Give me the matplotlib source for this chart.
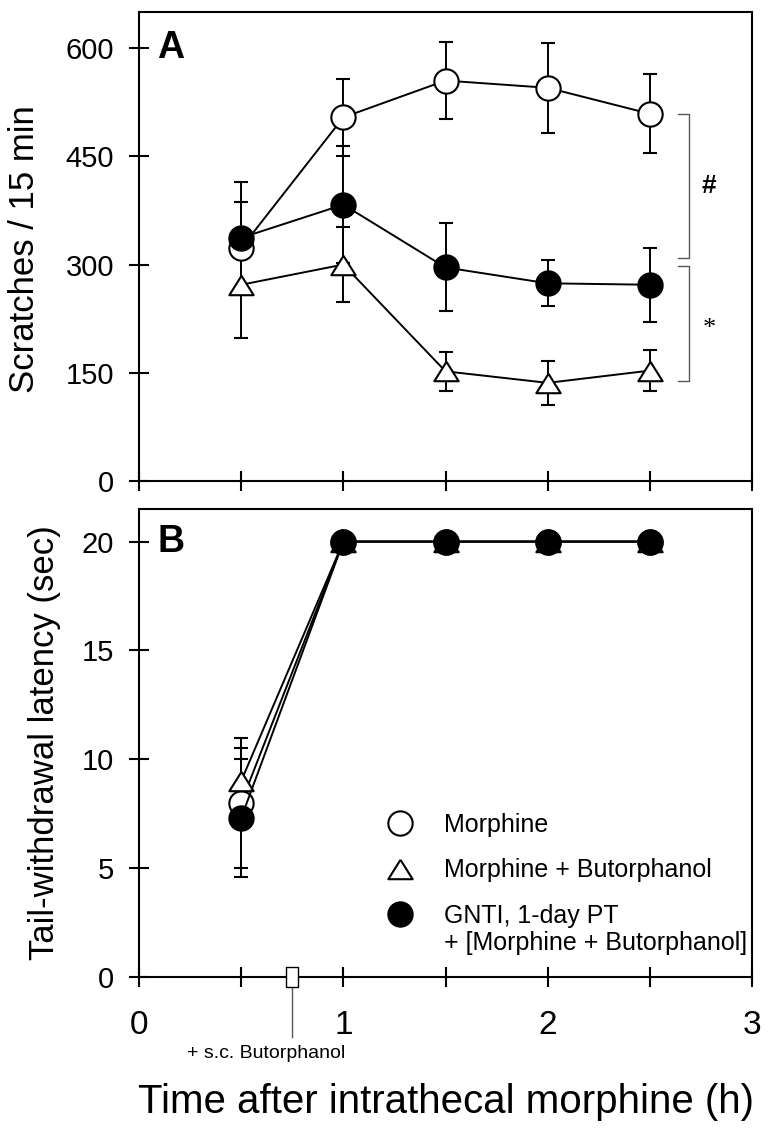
import numpy as np
import matplotlib
matplotlib.use("Agg")
import matplotlib.pyplot as plt
from matplotlib.lines import Line2D

plt.rcParams['font.family'] = ['Liberation Sans', 'DejaVu Sans']

# time points (h after intrathecal morphine)
time_h = [0.5, 1.0, 1.5, 2.0, 2.5]

# panel A: scratches / 15 min (mean, SEM)
scr_morphine = [323, 504, 555, 545, 509]
scr_morphine_err = [64, 53, 53, 62, 55]
scr_morph_buto = [272, 300, 152, 136, 153]
scr_morph_buto_err = [74, 52, 27, 31, 28]
scr_gnti = [337, 383, 296, 274, 272]
scr_gnti_err = [78, 81, 61, 32, 51]

# panel B: tail-withdrawal latency (sec)
tw_morphine = [8.0, 20, 20, 20, 20]
tw_morphine_err = [3.0, 0, 0, 0, 0]
tw_morph_buto = [9.0, 20, 20, 20, 20]
tw_morph_buto_err = [1.5, 0, 0, 0, 0]
tw_gnti = [7.3, 20, 20, 20, 20]
tw_gnti_err = [2.7, 0, 0, 0, 0]

labels = ['Morphine', 'Morphine + Butorphanol', 'GNTI, 1-day PT']
label_cont = '+ [Morphine + Butorphanol]'

# significance brackets (y ranges in scratches)
bracket_hash = (309, 509)
bracket_star = (139, 298)
buto_time = 0.75

TRI = [(0, 0.8), (-1, -0.8), (1, -0.8), (0, 0.8)]
MS = 17.5
LW = 1.4

styles = [
    dict(marker='o', mfc='white'),
    dict(marker=TRI, mfc='white'),
    dict(marker='o', mfc='black'),
]


def style_axes(ax, yticks, ylim):
    ax.set_xlim(0, 3)
    ax.set_ylim(*ylim)
    ax.set_yticks(yticks)
    ax.set_xticks(np.arange(0, 3.01, 0.5))
    for s in ax.spines.values():
        s.set_linewidth(1.5)
    ax.tick_params(direction='inout', length=14, width=1.5,
                   top=False, right=False)
    ax.tick_params(axis='y', labelsize=21, pad=11)
    ax.tick_params(axis='x', labelsize=24, pad=17)


def draw_series(ax, ys, errs):
    for y, e, st in zip(ys, errs, styles):
        ax.errorbar(time_h, y, yerr=e, color='black', lw=LW, ms=MS,
                    mec='black', mew=1.5, capsize=5, capthick=LW,
                    elinewidth=LW, clip_on=False, **st)


fig = plt.figure(figsize=(7.74, 11.36), dpi=100)
axA = fig.add_axes([0.1796, 0.5766, 0.792, 0.4128])
axB = fig.add_axes([0.1796, 0.1400, 0.792, 0.4120])

# panel A
draw_series(axA, [scr_morphine, scr_morph_buto, scr_gnti],
            [scr_morphine_err, scr_morph_buto_err, scr_gnti_err])
style_axes(axA, [0, 150, 300, 450, 600], (0, 650))
axA.set_xticklabels([])
axA.set_ylabel('Scratches / 15 min', fontsize=25)
axA.yaxis.set_label_coords(-0.16, 0.495)
axA.text(0.09, 600, 'A', fontsize=27, fontweight='bold', va='center')

for (y0, y1), mark, fam in [(bracket_hash, '#', 'Liberation Sans'),
                            (bracket_star, '*', 'Liberation Serif')]:
    axA.plot([2.64, 2.69, 2.69, 2.64], [y1, y1, y0, y0], color='0.35',
             lw=1.0, clip_on=False)
    axA.text(2.79, (y0 + y1) / 2 + (0 if mark == '#' else -8), mark,
             fontsize=19, fontweight='bold' if mark == '#' else 'normal',
             family=fam, ha='center', va='center')

# panel B
draw_series(axB, [tw_morphine, tw_morph_buto, tw_gnti],
            [tw_morphine_err, tw_morph_buto_err, tw_gnti_err])
style_axes(axB, [0, 5, 10, 15, 20], (0, 21.5))
axB.set_xticklabels(['0', '', '1', '', '2', '', '3'])
axB.set_ylabel('Tail-withdrawal latency (sec)', fontsize=25)
axB.yaxis.set_label_coords(-0.128, 0.5)
axB.text(0.09, 20, 'B', fontsize=27, fontweight='bold', va='center')
axB.set_xlabel('Time after intrathecal morphine (h)', fontsize=29,
               labelpad=30)

# butorphanol injection marker
axB.plot([buto_time, buto_time], [0, -2.75], color='0.35', lw=1.0,
         clip_on=False, zorder=5)
axB.plot([buto_time], [0], ls='none',
         marker=[(-0.65, -1), (0.65, -1), (0.65, 1), (-0.65, 1), (-0.65, -1)],
         ms=14, mfc='white', mec='black', mew=1.0, clip_on=False, zorder=6)
axB.text(0.62, -3.5, '+ s.c. Butorphanol', fontsize=14, ha='center',
         va='center')

handles = [Line2D([], [], ls='none', ms=MS, mec='black', mew=1.5, **st)
           for st in styles]
axB.legend(handles, labels, loc='upper left', bbox_to_anchor=(0.397, 0.351),
           frameon=False, fontsize=18, handlelength=1.4, handletextpad=1.06,
           labelspacing=0.87, borderaxespad=0, borderpad=0)
axB.text(0.4976, 0.0726, label_cont, transform=axB.transAxes, fontsize=18,
         va='center', ha='left')

fig.savefig('out.png', dpi=100)
